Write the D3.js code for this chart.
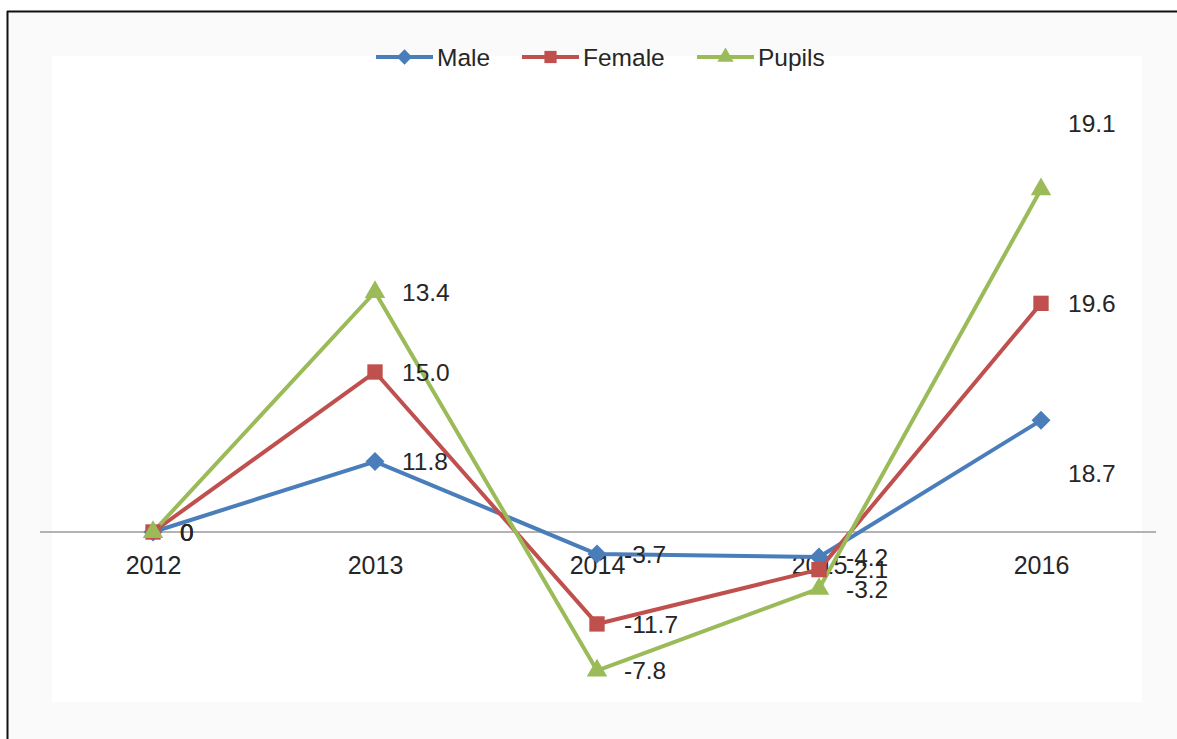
<!DOCTYPE html>
<html>
<head>
<meta charset="utf-8">
<script src="https://cdn.jsdelivr.net/npm/d3@7"></script>
<style>
  html, body { margin: 0; padding: 0; background: #ffffff; }
  svg { display: block; }
  text { font-family: "Liberation Sans", Arial, sans-serif; fill: #262626; }
</style>
</head>
<body>
<svg id="chart" width="1177" height="739"></svg>
<script>
// Year categories and the yearly change for each group (stacked line chart)
const years = ["2012", "2013", "2014", "2015", "2016"];
const male = [0, 11.8, -3.7, -4.2, 18.7];
const female = [0, 15.0, -11.7, -2.1, 19.6];
const pupils = [0, 13.4, -7.8, -3.2, 19.1];
const seriesNames = ["Male", "Female", "Pupils"];
const yDomain = [-30, 70];

const W = 1177, H = 739;
const svg = d3.select("#chart");

// Frame: black edge on the left and top, pale surround, white chart area
svg.append("rect").attr("x", 8).attr("y", 12).attr("width", W).attr("height", H)
  .attr("fill", "#fafafa");
svg.append("rect").attr("x", 52).attr("y", 56).attr("width", 1090).attr("height", 646)
  .attr("fill", "#ffffff");
svg.append("line").attr("x1", 7.5).attr("x2", 7.5).attr("y1", 11).attr("y2", H)
  .attr("stroke", "#111").attr("stroke-width", 2);
svg.append("line").attr("x1", 7).attr("x2", W).attr("y1", 11.5).attr("y2", 11.5)
  .attr("stroke", "#111").attr("stroke-width", 2);

const colors = { Male: "#4a7ebb", Female: "#c0504d", Pupils: "#9bbb59" };
const symbols = { Male: d3.symbolDiamond2, Female: d3.symbolSquare2, Pupils: d3.symbolTriangle2 };

// Each line sits on the running total of the series before it
const rows = years.map((y, i) => ({ year: y, Male: male[i], Female: female[i], Pupils: pupils[i] }));
const cumulative = seriesNames.map((k, si) => years.map((y, i) => {
  let s = 0;
  for (let j = 0; j <= si; j++) s += rows[i][seriesNames[j]];
  return { year: y, value: rows[i][k], top: s };
}));

const x = d3.scalePoint().domain(years).range([42, 1152]).padding(0.5);
const y = d3.scaleLinear().domain(yDomain).range([711.1, 114.1]);

// Horizontal axis at zero
const xAxis = svg.append("g").attr("transform", `translate(0,${y(0)})`)
  .call(d3.axisBottom(x).tickSize(0).tickPadding(24));
xAxis.select(".domain").attr("stroke", "#9a9a9a").attr("stroke-width", 1.5)
  .attr("d", `M40,0H1156`);
xAxis.selectAll(".tick text").style("font-family", "'Liberation Sans', Arial, sans-serif")
  .style("font-size", "25px").attr("fill", "#333");

const line = d3.line().x(d => x(d.year)).y(d => y(d.top));

// Lines
seriesNames.forEach((k, si) => {
  svg.append("path").datum(cumulative[si])
    .attr("fill", "none").attr("stroke", colors[k]).attr("stroke-width", 4)
    .attr("stroke-linejoin", "round").attr("d", line);
});

// Markers
const markerSize = { Male: 230, Female: 300, Pupils: 300 };
seriesNames.forEach((k, si) => {
  svg.append("g").selectAll("path").data(cumulative[si]).join("path")
    .attr("transform", d => `translate(${x(d.year)},${y(d.top)})`)
    .attr("d", d3.symbol().type(symbols[k]).size(markerSize[k]))
    .attr("fill", colors[k]);
});

// Data labels to the right of each point, a few nudged clear of the lines
const nudge = { "Pupils-2016": -66, "Male-2016": 53 };
const fmt = v => v === 0 ? "0" : d3.format(".1f")(v).replace("\u2212", "-");
seriesNames.forEach((k, si) => {
  svg.append("g").selectAll("text").data(cumulative[si]).join("text")
    .attr("x", d => x(d.year) + 27)
    .attr("y", d => y(d.top) + (nudge[k + "-" + d.year] || 0))
    .attr("dy", "0.36em")
    .style("font-size", "24.5px")
    .attr("fill", "#222")
    .text(d => fmt(d.value));
});

// Legend
const legendItems = [
  { name: "Male", x: 376 },
  { name: "Female", x: 522 },
  { name: "Pupils", x: 697 }
];
const lg = svg.append("g");
legendItems.forEach(it => {
  const g = lg.append("g").attr("transform", `translate(${it.x},57)`);
  g.append("line").attr("x1", 0).attr("x2", 57).attr("y1", 0).attr("y2", 0)
    .attr("stroke", colors[it.name]).attr("stroke-width", 4);
  g.append("path").attr("transform", "translate(28.5,0)")
    .attr("d", d3.symbol().type(symbols[it.name]).size(it.name === "Male" ? 150 : 190))
    .attr("fill", colors[it.name]);
  g.append("text").attr("x", 61).attr("y", 0).attr("dy", "0.36em")
    .style("font-size", "24.5px").attr("fill", "#333").text(it.name);
});
</script>
</body>
</html>
